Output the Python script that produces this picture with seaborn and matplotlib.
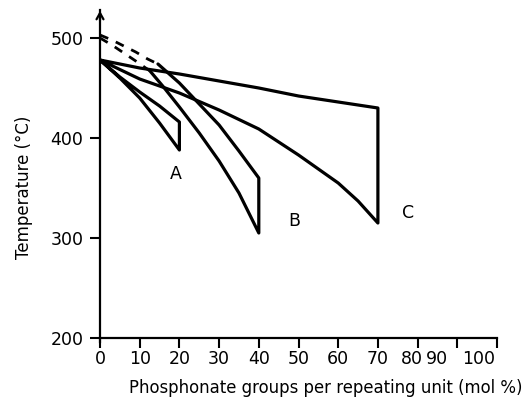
import matplotlib
matplotlib.use("Agg")
import matplotlib.pyplot as plt
import matplotlib.transforms as mtransforms
import seaborn as sns
import pandas as pd

# ---- data ----
# Region A
a_x = [0, 5, 10, 15, 20]
a_upper = [478, 461, 446, 432, 416]
a_lower = [478, 460, 440, 415, 388]

# Region B (dashed extrapolation to 0 mol%, then solid)
b_up_dash_x = [0, 3, 6, 9, 12, 14.6]
b_up_dash_y = [503, 498, 492, 486, 479, 474]
b_lo_dash_x = [0, 3, 6, 9, 12.6]
b_lo_dash_y = [500, 493, 485, 477, 467]
b_up_x = [14.6, 20, 25, 30, 35, 40]
b_up_y = [474, 455, 434, 413, 387, 360]
b_lo_x = [12.6, 16, 20, 25, 30, 35, 40]
b_lo_y = [467, 451, 431, 405, 377, 345, 305]

# Region C
c_up_x = [0, 10, 20, 30, 40, 50, 60, 70]
c_up_y = [478, 470, 464, 457, 450, 442, 436, 430]
c_lo_x = [0, 10, 20, 30, 40, 50, 60, 65, 70]
c_lo_y = [478, 459, 445, 428, 409, 383, 355, 337, 315]

region_labels = ["A", "B", "C"]
label_pos = [(19, 364), (49, 317), (77.5, 325)]

x_ticks = [0, 10, 20, 30, 40, 50, 60, 70, 80, 90, 100]
y_ticks = [200, 300, 400, 500]

# ---- figure ----
sns.set_style("ticks")
plt.rcParams["font.family"] = ["DejaVu Sans"]
plt.rcParams["text.color"] = "black"
plt.rcParams["axes.labelcolor"] = "black"

fig = plt.figure(figsize=(5.29, 4.08), dpi=100)
ax = fig.add_axes([100 / 529, 70 / 408, 397 / 529, 328 / 408])

def closed_path(ux, uy, lx, ly):
    xs = list(ux) + list(lx)[::-1]
    ys = list(uy) + list(ly)[::-1]
    return pd.DataFrame({"x": xs, "y": ys, "order": range(len(xs))})

paths = [
    closed_path(a_x, a_upper, a_x, a_lower),
    closed_path(b_up_x, b_up_y, b_lo_x, b_lo_y),
    closed_path(c_up_x, c_up_y, c_lo_x, c_lo_y),
]
for df in paths:
    sns.lineplot(data=df, x="x", y="y", sort=False, estimator=None,
                 color="black", lw=2.3, ax=ax)

for dx, dy in [(b_up_dash_x, b_up_dash_y), (b_lo_dash_x, b_lo_dash_y)]:
    sns.lineplot(x=dx, y=dy, sort=False, estimator=None, color="black",
                 lw=2.0, ax=ax, linestyle=(0, (3.2, 3.0)))

for lab, (lx, ly) in zip(region_labels, label_pos):
    ax.text(lx, ly, lab, ha="center", va="center", fontsize=12.5, color="black")

ax.set_xlim(0, 100)
ax.set_ylim(200, 528)
ax.set_xticks(x_ticks)
ax.set_yticks(y_ticks)
ax.set_xticklabels([str(t) for t in x_ticks])
ax.tick_params(axis="both", labelsize=12.5, width=1.5, length=7,
               colors="black", labelcolor="black")
ax.tick_params(axis="x", pad=2)
ax.tick_params(axis="y", pad=5)

# shift crowded last labels left as in the reference
for lbl, dxp in zip(ax.get_xticklabels()[-3:], [-6, -20, -18]):
    lbl.set_transform(lbl.get_transform() +
                      mtransforms.ScaledTranslation(dxp / 100, 0, fig.dpi_scale_trans))

for s in ["top", "right"]:
    ax.spines[s].set_visible(False)
for s in ["left", "bottom"]:
    ax.spines[s].set_linewidth(1.6)
    ax.spines[s].set_color("black")
ax.spines["left"].set_bounds(196, 528)

ax.annotate("", xy=(0, 530), xytext=(0, 515),
            arrowprops=dict(arrowstyle="->,head_length=0.45,head_width=0.25",
                            lw=1.6, color="black"),
            annotation_clip=False)

ax.set_xlabel("Phosphonate groups per repeating unit (mol %)", fontsize=11.9,
              color="black")
ax.set_ylabel("Temperature (°C)", fontsize=12, color="black")
ax.xaxis.label.set_va("center")
ax.yaxis.label.set_va("center")
ax.xaxis.set_label_coords((326 - 100) / 397, (338 - 388) / 328)
ax.yaxis.set_label_coords((24 - 100) / 397, (338 - 187) / 328)
if ax.get_legend():
    ax.get_legend().remove()

fig.savefig("out.png", dpi=100)
